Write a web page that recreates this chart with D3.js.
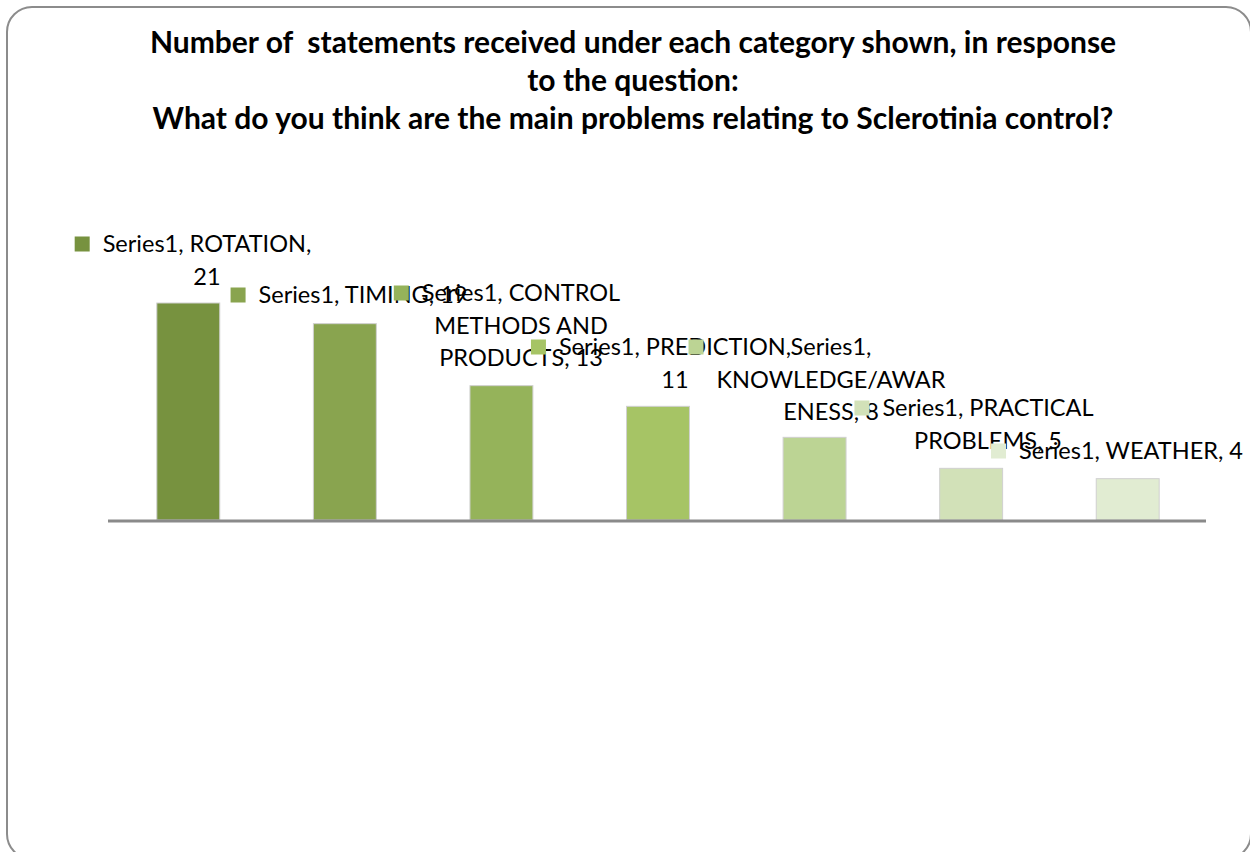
<!DOCTYPE html>
<html>
<head>
<meta charset="utf-8">
<script src="https://cdn.jsdelivr.net/npm/d3@7"></script>
<style>
  html, body { margin: 0; padding: 0; background: #ffffff; }
  svg { display: block; }
</style>
</head>
<body>
<div id="chart"></div>
<script>
// ---------- data ----------
const seriesName = "Series1";
const categories = ["ROTATION", "TIMING", "CONTROL METHODS AND PRODUCTS", "PREDICTION",
                    "KNOWLEDGE/AWARENESS", "PRACTICAL PROBLEMS", "WEATHER"];
const values = [21, 19, 13, 11, 8, 5, 4];
const titleLines = [
  "Number of  statements received under each category shown, in response",
  "to the question:",
  "What do you think are the main problems relating to Sclerotinia control?"
];

// ---------- styles / layout ----------
const barColors = ["#77923f", "#89a44f", "#95b35a", "#a6c465", "#bcd494", "#d2e1b8", "#e1ecd2"];
// label layout: centre x of text block, centre y of first line, character break positions
const labelLayout = [
  { cx: 207, cy: 244, breaks: [18] },
  { cx: 363, cy: 295, breaks: [] },
  { cx: 521, cy: 293, breaks: [16, 28] },
  { cx: 675, cy: 347, breaks: [20] },
  { cx: 831, cy: 347, breaks: [8, 23] },
  { cx: 988, cy: 408, breaks: [18] },
  { cx: 1131, cy: 451, breaks: [] }
];
const FONT = "Lato, 'Open Sans', sans-serif";
const W = 1250, H = 852;

const svg = d3.select("#chart").append("svg").attr("width", W).attr("height", H);

function fitSize(text, weight, targetW) {
  const t = svg.append("text").attr("font-family", FONT).attr("font-weight", weight)
    .attr("font-size", 100).style("white-space", "pre").text(text);
  const w = t.node().getComputedTextLength();
  t.remove();
  return 100 * targetW / w;
}

// frame
svg.append("rect")
  .attr("x", 7).attr("y", 7).attr("width", 1244).attr("height", 852)
  .attr("rx", 25).attr("ry", 25)
  .attr("fill", "#ffffff").attr("stroke", "#8c8c8c").attr("stroke-width", 2);

// title
const titleSize = fitSize(titleLines[0], "bold", 967);
svg.append("g").selectAll("text").data(titleLines).join("text")
  .attr("x", 633)
  .attr("y", (d, i) => 42 + i * 38)
  .attr("dy", "0.35em")
  .attr("text-anchor", "middle")
  .attr("font-family", FONT).attr("font-weight", "bold")
  .attr("font-size", titleSize)
  .attr("fill", "#000")
  .style("white-space", "pre")
  .text(d => d);

// scales
const x = d3.scaleBand().domain(categories).range([110, 1206]).paddingInner(0.598).paddingOuter(0.299);
const y = d3.scaleLinear().domain([0, 21]).range([520, 303]);

// bars
svg.append("g").selectAll("rect").data(values).join("rect")
  .attr("x", (d, i) => x(categories[i]))
  .attr("y", d => y(d))
  .attr("width", x.bandwidth())
  .attr("height", d => y(0) - y(d))
  .attr("fill", (d, i) => barColors[i])
  .attr("stroke", "#d0d0d0").attr("stroke-width", 1);

// axis line
const xAxis = d3.axisBottom(x).tickSize(0).tickFormat("");
const axG = svg.append("g").attr("transform", `translate(0,${y(0) + 1})`).call(xAxis);
axG.select(".domain").attr("d", `M108,0H1206`).attr("stroke", "#8a8a8a").attr("stroke-width", 3);

// data labels
const labelSize = fitSize(`${seriesName}, ${categories[6]}, ${values[6]}`, "normal", 224);
const lineH = 32.5;
values.forEach((v, i) => {
  const full = `${seriesName}, ${categories[i]}, ${v}`;
  const L = labelLayout[i];
  const cuts = [0, ...L.breaks, full.length];
  const lines = [];
  for (let k = 0; k < cuts.length - 1; k++) lines.push(full.slice(cuts[k], cuts[k + 1]).trim());
  const g = svg.append("g");
  const texts = g.selectAll("text").data(lines).join("text")
    .attr("x", L.cx)
    .attr("y", (d, k) => L.cy + k * lineH)
    .attr("dy", "0.35em")
    .attr("text-anchor", "middle")
    .attr("font-family", FONT).attr("font-size", labelSize)
    .attr("fill", "#000")
    .text(d => d);
  let maxW = 0;
  texts.each(function () { maxW = Math.max(maxW, this.getComputedTextLength()); });
  const left = L.cx - maxW / 2;
  g.insert("rect", "text")
    .attr("x", left - 28).attr("y", L.cy - 7.5)
    .attr("width", 15).attr("height", 15)
    .attr("fill", barColors[i]);
});
</script>
</body>
</html>
